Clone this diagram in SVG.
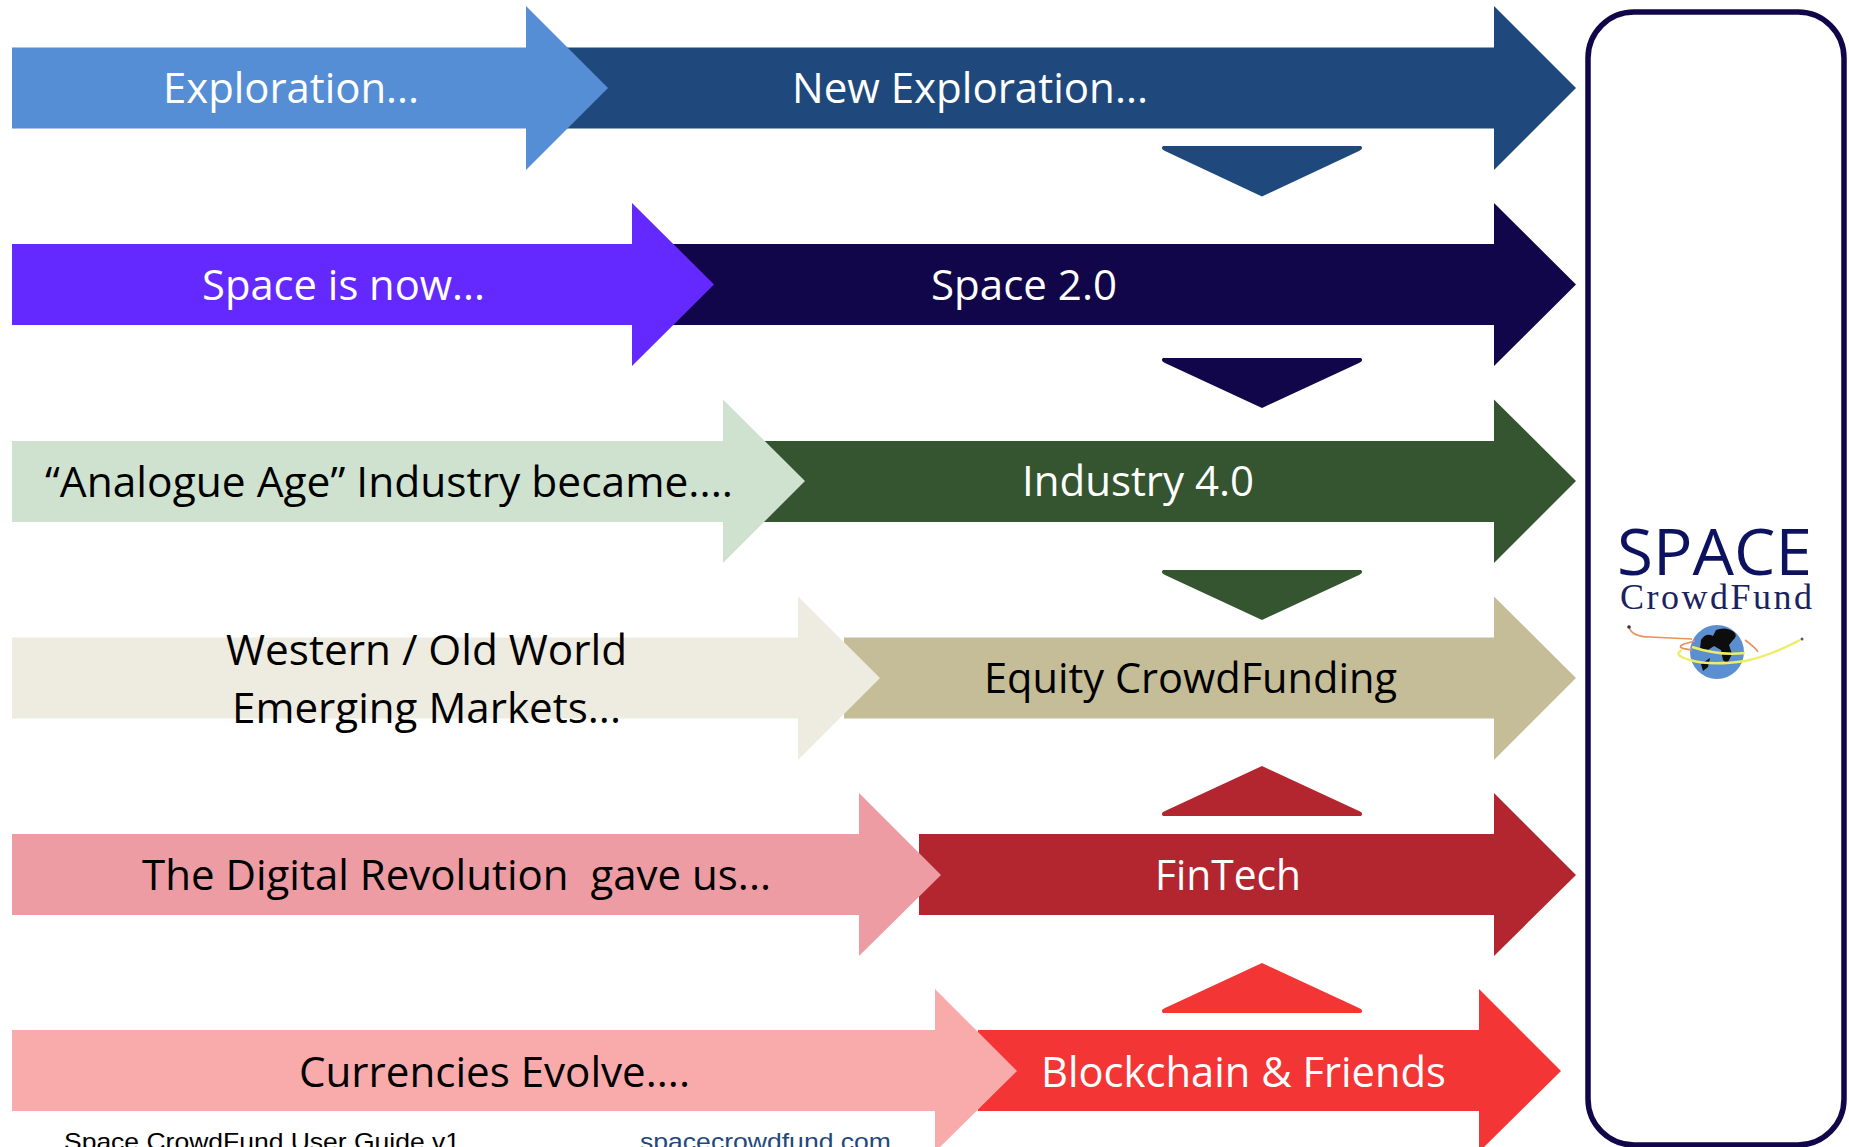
<svg xmlns="http://www.w3.org/2000/svg" width="1849" height="1147" viewBox="0 0 1849 1147">
<defs><filter id="soft" x="-10%" y="-10%" width="120%" height="120%"><feGaussianBlur stdDeviation="0.6"/></filter></defs>
<style>
text{font-family:"Open Sans","Lato","Liberation Sans",sans-serif;font-size:42px;text-anchor:start;white-space:pre}
.w{fill:#fff}.k{fill:#000}
.f{font-family:"Liberation Sans",Arial,sans-serif;font-size:24px}
</style>
<rect width="1849" height="1147" fill="#fff"/>
<g id="connectors">
<path d="M1163 146Q1160 149 1165 151L1262 196.500L1359 151Q1364 149 1361 146Z" fill="#1F497D"/>
<path d="M1163 358Q1160 361 1165 363L1262 408L1359 363Q1364 361 1361 358Z" fill="#12064A"/>
<path d="M1163 570Q1160 573 1165 575L1262 620L1359 575Q1364 573 1361 570Z" fill="#355430"/>
<path d="M1163 816Q1160 813 1165 811L1262 766L1359 811Q1364 813 1361 816Z" fill="#B3262F"/>
<path d="M1163 1013Q1160 1010 1165 1008L1262 963L1359 1008Q1364 1010 1361 1013Z" fill="#F33535"/>
</g>
<g id="n1-dark"><path d="M560 47.500H1494V6L1576 88L1494 170V128.500H560Z" fill="#1F497D"/><text class="w" x="792" y="103" textLength="356" lengthAdjust="spacingAndGlyphs">New Exploration...</text></g>
<g id="n1-light"><path d="M12 47.500H526V6L608 88L526 170V128.500H12Z" fill="#558ED5"/><text class="w" x="163" y="103" textLength="256" lengthAdjust="spacingAndGlyphs">Exploration...</text></g>
<g id="n2-dark"><path d="M660 244H1494V203L1576 284.500L1494 366V325H660Z" fill="#12064A"/><text class="w" x="931" y="300" textLength="186" lengthAdjust="spacingAndGlyphs">Space 2.0</text></g>
<g id="n2-light"><path d="M12 244H632V203L714 284.500L632 366V325H12Z" fill="#6429FF"/><text class="w" x="202" y="300" textLength="283" lengthAdjust="spacingAndGlyphs">Space is now...</text></g>
<g id="n3-dark"><path d="M750 441H1494V399.500L1576 481L1494 563V522H750Z" fill="#355430"/><text class="w" x="1022" y="496" textLength="232" lengthAdjust="spacingAndGlyphs">Industry 4.0</text></g>
<g id="n3-light"><path d="M12 441H723V399.500L805 481L723 563V522H12Z" fill="#CFE2D0"/><text class="k" x="45" y="497" textLength="688" lengthAdjust="spacingAndGlyphs">“Analogue Age” Industry became....</text></g>
<g id="n4-dark"><path d="M844 637.500H1494V596.500L1576 678L1494 760V718.500H844Z" fill="#C4BD97"/><text class="k" x="984" y="693" textLength="413" lengthAdjust="spacingAndGlyphs">Equity CrowdFunding</text></g>
<g id="n4-light"><path d="M12 637.500H798V596.500L880 678L798 760V718.500H12Z" fill="#EEECE1"/><text class="k" x="226" y="665" textLength="401" lengthAdjust="spacingAndGlyphs">Western / Old World</text><text class="k" x="232" y="723" textLength="389" lengthAdjust="spacingAndGlyphs">Emerging Markets...</text></g>
<g id="n5-dark"><path d="M919 834H1494V793L1576 875L1494 956V915H919Z" fill="#B3262F"/><text class="w" x="1155" y="890" textLength="146" lengthAdjust="spacingAndGlyphs">FinTech</text></g>
<g id="n5-light"><path d="M12 834H859V793L941 875L859 956V915H12Z" fill="#EC9CA2"/><text class="k" x="142" y="890" textLength="629" lengthAdjust="spacingAndGlyphs">The Digital Revolution  gave us...</text></g>
<g id="n6-dark"><path d="M978 1030H1479V989L1561 1071L1479 1152V1111H978Z" fill="#F33535"/><text class="w" x="1041" y="1087" textLength="405" lengthAdjust="spacingAndGlyphs">Blockchain &amp; Friends</text></g>
<g id="n6-light"><path d="M12 1030H935V989L1017 1071L935 1152V1111H12Z" fill="#F9ABAC"/><text class="k" x="299" y="1087" textLength="391" lengthAdjust="spacingAndGlyphs">Currencies Evolve....</text></g>
<g id="footer"><text class="f" x="64" y="1150" fill="#000" textLength="396" lengthAdjust="spacingAndGlyphs">Space CrowdFund User Guide v1</text><text class="f" x="640" y="1150" fill="#1F497D" textLength="251" lengthAdjust="spacingAndGlyphs">spacecrowdfund.com</text></g>
<g id="spacecrowdfund">
<rect x="1588" y="12" width="256" height="1133" rx="46" fill="#fff" stroke="#12064A" stroke-width="5.5"/>
<text x="1617" y="575" fill="#0C1260" style="font-family:'Open Sans','Lato',sans-serif;font-size:64px" textLength="195" lengthAdjust="spacingAndGlyphs">SPACE</text>
<text x="1620" y="609" fill="#1B2260" style="font-family:'Liberation Serif',serif;font-size:36px" textLength="192" lengthAdjust="spacing">CrowdFund</text>
<g filter="url(#soft)">
<circle cx="1717" cy="652" r="27" fill="#5B8FCF"/>
<path d="M1701 640Q1706 632 1713 636L1716 630Q1726 626 1734 632Q1738 636 1733 640L1729 645L1732 654L1727 664L1723 660L1721 650L1714 646L1708 650L1700 649ZM1701 664L1710 658L1708 667L1703 671Z" fill="#0a0a0a"/>
<path d="M1629 627Q1632 637 1650 637L1692 639M1692 650Q1674 648 1684 644L1695 641M1745 640Q1756 648 1758 652" fill="none" stroke="#E8925A" stroke-width="1.6"/>
<path d="M1800 640Q1770 656 1745 661Q1710 666 1690 660Q1672 655 1682 650M1692 647Q1720 656 1745 653" fill="none" stroke="#EEEE66" stroke-width="2.4"/>
<circle cx="1629" cy="627" r="1.8" fill="#334"/><circle cx="1802" cy="639" r="1.5" fill="#556"/>
</g>
</g>
</svg>
